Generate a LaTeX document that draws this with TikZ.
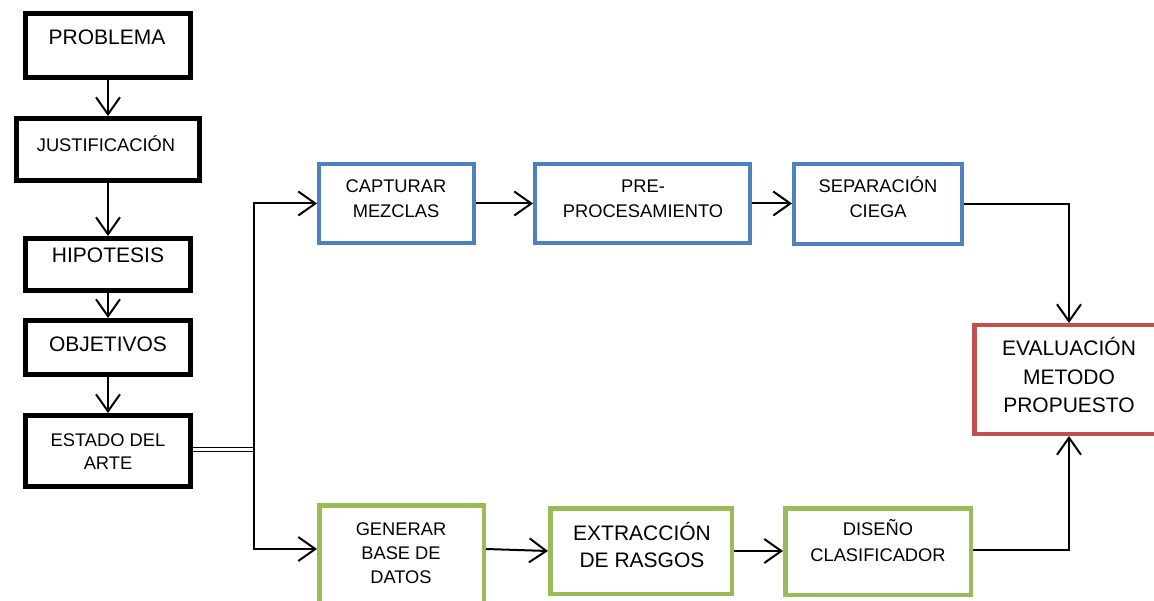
\documentclass[tikz,border=0pt]{standalone}
\usepackage{fontspec}
\setmainfont{Liberation Sans}
\usetikzlibrary{arrows.meta}
\definecolor{oblue}{RGB}{79,129,189}
\definecolor{ogreen}{RGB}{155,187,89}
\definecolor{ored}{RGB}{192,80,77}
\begin{document}
\begin{tikzpicture}[x=1pt,y=-1pt,
  blackbox/.style={draw=black, line width=5pt, inner sep=0pt},
  bluebox/.style={draw=oblue, line width=4.3pt, inner sep=0pt},
  greenbox/.style={draw=ogreen, line width=4.5pt, inner sep=0pt},
  redbox/.style={draw=ored, line width=4.5pt, inner sep=0pt},
  big/.style={anchor=base, align=center, inner sep=0pt, font=\fontsize{21}{28.5}\selectfont},
  small/.style={anchor=base, align=center, inner sep=0pt, font=\fontsize{18.3}{25}\selectfont},
  arr/.style={line width=2pt, -{Straight Barb[length=17pt,width=24pt,line width=2pt]}},
  conn/.style={line width=2pt}
]
\useasboundingbox (0,0) rectangle (1154,601);
\clip (0,0) rectangle (1154,601);
\fill[white] (0,0) rectangle (1154,601);

% left column
\node[blackbox, minimum width=165pt, minimum height=64pt] (prob) at (108,45.5) {};
\node[blackbox, minimum width=183pt, minimum height=62pt] (just) at (108,149.5) {};
\node[blackbox, minimum width=165pt, minimum height=52pt] (hip) at (108,264.5) {};
\node[blackbox, minimum width=165pt, minimum height=54pt] (obj) at (108,347.5) {};
\node[blackbox, minimum width=165pt, minimum height=71pt] (est) at (108,451) {};

\node[big] (tprob) at (107,45) {PROBLEMA};
\node[small] (tjust) at (106,152) {JUSTIFICACIÓN};
\node[big] (thip) at (108,263) {HIPOTESIS};
\node[big] (tobj) at (108,352) {OBJETIVOS};
\node[small, font=\fontsize{18.3}{22.6}\selectfont] (test) at (108,469) {ESTADO DEL\\ARTE};

% top row
\node[bluebox, minimum width=154.7pt, minimum height=78.7pt] (cap) at (396.5,203.5) {};
\node[bluebox, minimum width=214.7pt, minimum height=78.7pt] (pre) at (642.5,203.5) {};
\node[bluebox, minimum width=167.7pt, minimum height=79.7pt] (sep) at (878,204) {};
\node[small] (tcap) at (396,218) {CAPTURAR\\MEZCLAS};
\node[small] (tpre) at (643,218) {PRE-\\PROCESAMIENTO};
\node[small] (tsep) at (878,218) {SEPARACIÓN\\CIEGA};

% evaluation
\node[redbox, minimum width=189.5pt, minimum height=108.5pt] (eva) at (1069,379.5) {};
\node[big] (teva) at (1069,413) {EVALUACIÓN\\METODO\\PROPUESTO};

% bottom row
\node[greenbox, minimum width=164.5pt, minimum height=132.5pt] (gen) at (401.5,571.5) {};
\node[greenbox, minimum width=181.5pt, minimum height=85.5pt] (ext) at (641,551) {};
\node[greenbox, minimum width=185.5pt, minimum height=86.5pt] (dis) at (878,551.5) {};
\node[small, font=\fontsize{18.3}{24}\selectfont] (tgen) at (401,583) {GENERAR\\BASE DE\\DATOS};
\node[big, font=\fontsize{21}{27}\selectfont] (text) at (642,567) {EXTRACCIÓN\\DE RASGOS};
\node[small, font=\fontsize{18.3}{26}\selectfont] (tdis) at (878,561) {DISEÑO\\CLASIFICADOR};

% connectors left column
\draw[arr] (prob) -- (just);
\draw[arr] (just) -- (hip);
\draw[arr] (hip) -- (obj);
\draw[arr] (obj) -- (est);

% branch
\coordinate (jn) at (254,449.5);
\draw[line width=1.4pt, double=white, double distance=2.6pt] ([yshift=1.5pt]est.east) -- (jn);
\draw[arr] (jn) |- (cap.west);
\draw[arr] (jn) |- ([yshift=22.5pt]gen.west);

% top row connectors
\draw[arr] (cap.east) -- (pre.west);
\draw[arr] (pre.east) -- (pre.east -| sep.west);
\draw[arr] (sep.east) -| (eva.north);

% bottom row connectors
\draw[arr] ([yshift=22.5pt]gen.east) -- (ext.west);
\draw[arr] (ext.east) -- (ext.east -| dis.west);
\draw[arr] ([yshift=1.5pt]dis.east) -| (eva.south);
\end{tikzpicture}
\end{document}
